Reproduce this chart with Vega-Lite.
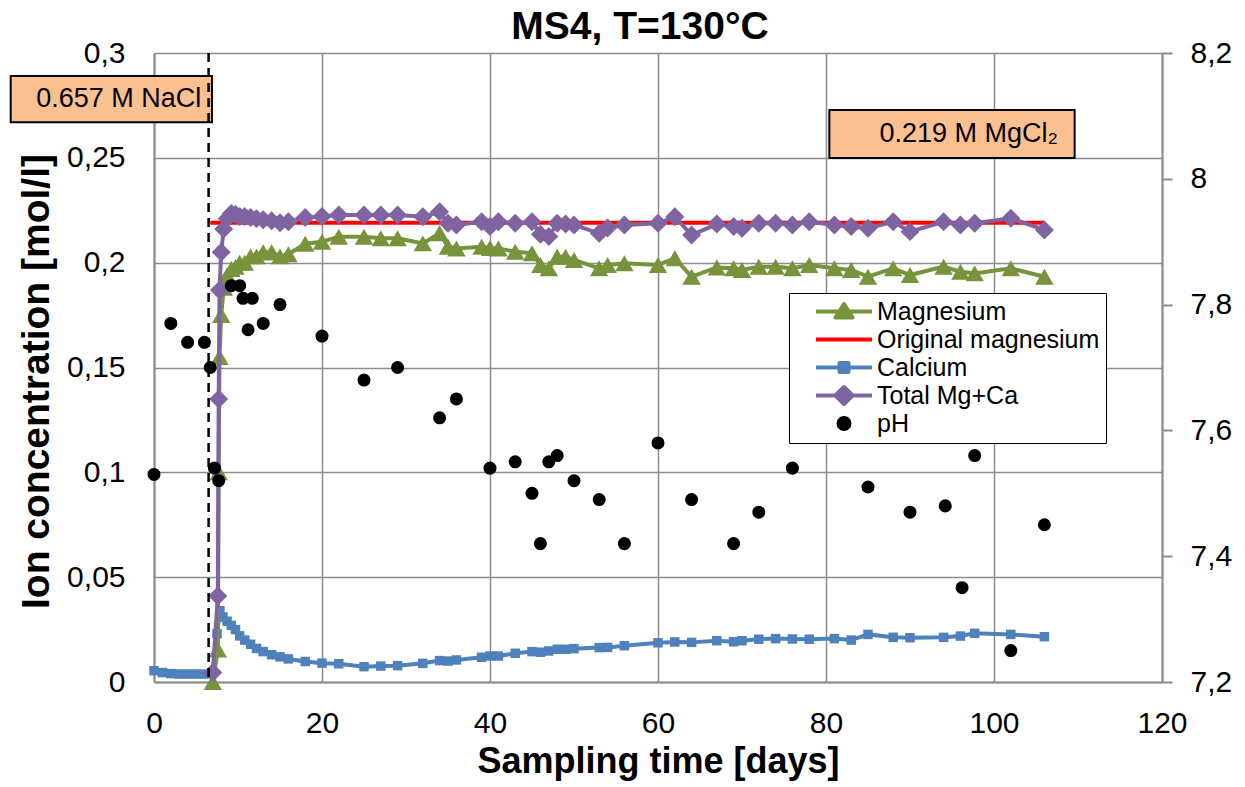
{
  "$schema": "https://vega.github.io/schema/vega-lite/v6.json",
  "width": 1008,
  "height": 629,
  "autosize": {"type": "none"},
  "padding": {"left": 154, "top": 53, "right": 83, "bottom": 105},
  "background": "white",
  "title": {"text": "MS4, T=130°C", "fontSize": 39, "fontWeight": "bold", "font": "Liberation Sans", "color": "black", "anchor": "middle", "baseline": "alphabetic", "offset": -39.5, "dx": -18},
  "config": {
    "view": {"stroke": null},
    "font": "Liberation Sans",
    "axis": {"labelFont": "Liberation Sans", "titleFont": "Liberation Sans", "labelColor": "black", "titleColor": "black", "gridColor": "#8c8c8c", "gridWidth": 1.5, "domainColor": "#8c8c8c", "domainWidth": 2, "tickColor": "#8c8c8c", "tickWidth": 2, "labelFlush": false}
  },
  "datasets": {
    "conc": [
      {"day": 6.7, "series": "Original magnesium", "value": 0.219},
      {"day": 106, "series": "Original magnesium", "value": 0.219},
      {"day": 0, "series": "Calcium", "value": 0.0054},
      {"day": 1, "series": "Calcium", "value": 0.0045},
      {"day": 2, "series": "Calcium", "value": 0.004},
      {"day": 3, "series": "Calcium", "value": 0.0038},
      {"day": 4, "series": "Calcium", "value": 0.0038},
      {"day": 5, "series": "Calcium", "value": 0.0038},
      {"day": 6, "series": "Calcium", "value": 0.0038},
      {"day": 7, "series": "Calcium", "value": 0.0045},
      {"day": 7.5, "series": "Calcium", "value": 0.023},
      {"day": 7.85, "series": "Calcium", "value": 0.034},
      {"day": 8.2, "series": "Calcium", "value": 0.031},
      {"day": 8.7, "series": "Calcium", "value": 0.029},
      {"day": 9.2, "series": "Calcium", "value": 0.027},
      {"day": 9.7, "series": "Calcium", "value": 0.025},
      {"day": 10.2, "series": "Calcium", "value": 0.022},
      {"day": 10.8, "series": "Calcium", "value": 0.02},
      {"day": 11.5, "series": "Calcium", "value": 0.018},
      {"day": 12.2, "series": "Calcium", "value": 0.016},
      {"day": 13, "series": "Calcium", "value": 0.0145},
      {"day": 14, "series": "Calcium", "value": 0.013},
      {"day": 15, "series": "Calcium", "value": 0.012},
      {"day": 16, "series": "Calcium", "value": 0.011},
      {"day": 18, "series": "Calcium", "value": 0.0098},
      {"day": 20, "series": "Calcium", "value": 0.009},
      {"day": 22, "series": "Calcium", "value": 0.0087},
      {"day": 25, "series": "Calcium", "value": 0.0073},
      {"day": 27, "series": "Calcium", "value": 0.0076},
      {"day": 29, "series": "Calcium", "value": 0.0078},
      {"day": 32, "series": "Calcium", "value": 0.0089},
      {"day": 34, "series": "Calcium", "value": 0.0102},
      {"day": 35, "series": "Calcium", "value": 0.01},
      {"day": 36, "series": "Calcium", "value": 0.0105},
      {"day": 39, "series": "Calcium", "value": 0.0118},
      {"day": 40, "series": "Calcium", "value": 0.0124},
      {"day": 41, "series": "Calcium", "value": 0.0124},
      {"day": 43, "series": "Calcium", "value": 0.0137},
      {"day": 45, "series": "Calcium", "value": 0.0145},
      {"day": 46, "series": "Calcium", "value": 0.0142},
      {"day": 47, "series": "Calcium", "value": 0.0148},
      {"day": 48, "series": "Calcium", "value": 0.0156},
      {"day": 49, "series": "Calcium", "value": 0.0156},
      {"day": 50, "series": "Calcium", "value": 0.0159},
      {"day": 53, "series": "Calcium", "value": 0.0164},
      {"day": 54, "series": "Calcium", "value": 0.0165},
      {"day": 56, "series": "Calcium", "value": 0.0173},
      {"day": 60, "series": "Calcium", "value": 0.0187},
      {"day": 62, "series": "Calcium", "value": 0.0191},
      {"day": 64, "series": "Calcium", "value": 0.0189},
      {"day": 67, "series": "Calcium", "value": 0.0197},
      {"day": 69, "series": "Calcium", "value": 0.0192},
      {"day": 70, "series": "Calcium", "value": 0.0197},
      {"day": 72, "series": "Calcium", "value": 0.0204},
      {"day": 74, "series": "Calcium", "value": 0.0207},
      {"day": 76, "series": "Calcium", "value": 0.0205},
      {"day": 78, "series": "Calcium", "value": 0.0204},
      {"day": 81, "series": "Calcium", "value": 0.0207},
      {"day": 83, "series": "Calcium", "value": 0.02},
      {"day": 85, "series": "Calcium", "value": 0.0227},
      {"day": 88, "series": "Calcium", "value": 0.0213},
      {"day": 90, "series": "Calcium", "value": 0.0211},
      {"day": 94, "series": "Calcium", "value": 0.0213},
      {"day": 96, "series": "Calcium", "value": 0.0219},
      {"day": 97.7, "series": "Calcium", "value": 0.0232},
      {"day": 102, "series": "Calcium", "value": 0.0227},
      {"day": 106, "series": "Calcium", "value": 0.0216},
      {"day": 7, "series": "Magnesium", "value": 0},
      {"day": 7.6, "series": "Magnesium", "value": 0.0155},
      {"day": 7.7, "series": "Magnesium", "value": 0.1},
      {"day": 7.8, "series": "Magnesium", "value": 0.155},
      {"day": 8.0, "series": "Magnesium", "value": 0.175},
      {"day": 8.3, "series": "Magnesium", "value": 0.188},
      {"day": 8.7, "series": "Magnesium", "value": 0.194},
      {"day": 9.2, "series": "Magnesium", "value": 0.197},
      {"day": 9.7, "series": "Magnesium", "value": 0.198},
      {"day": 10.2, "series": "Magnesium", "value": 0.2},
      {"day": 10.8, "series": "Magnesium", "value": 0.2},
      {"day": 11.5, "series": "Magnesium", "value": 0.203},
      {"day": 12.2, "series": "Magnesium", "value": 0.203},
      {"day": 13, "series": "Magnesium", "value": 0.205},
      {"day": 14, "series": "Magnesium", "value": 0.205},
      {"day": 15, "series": "Magnesium", "value": 0.203},
      {"day": 16, "series": "Magnesium", "value": 0.204},
      {"day": 18, "series": "Magnesium", "value": 0.209},
      {"day": 20, "series": "Magnesium", "value": 0.21},
      {"day": 22, "series": "Magnesium", "value": 0.2124},
      {"day": 25, "series": "Magnesium", "value": 0.2124},
      {"day": 27, "series": "Magnesium", "value": 0.2116},
      {"day": 29, "series": "Magnesium", "value": 0.2116},
      {"day": 32, "series": "Magnesium", "value": 0.2092},
      {"day": 34, "series": "Magnesium", "value": 0.214},
      {"day": 35, "series": "Magnesium", "value": 0.2076},
      {"day": 36, "series": "Magnesium", "value": 0.2068},
      {"day": 39, "series": "Magnesium", "value": 0.2076},
      {"day": 40, "series": "Magnesium", "value": 0.207},
      {"day": 41, "series": "Magnesium", "value": 0.2068},
      {"day": 43, "series": "Magnesium", "value": 0.2052},
      {"day": 45, "series": "Magnesium", "value": 0.2045},
      {"day": 46, "series": "Magnesium", "value": 0.1989},
      {"day": 47, "series": "Magnesium", "value": 0.1973},
      {"day": 48, "series": "Magnesium", "value": 0.2028},
      {"day": 49, "series": "Magnesium", "value": 0.2028},
      {"day": 50, "series": "Magnesium", "value": 0.2013},
      {"day": 53, "series": "Magnesium", "value": 0.1973},
      {"day": 54, "series": "Magnesium", "value": 0.1989},
      {"day": 56, "series": "Magnesium", "value": 0.1997},
      {"day": 60, "series": "Magnesium", "value": 0.1989},
      {"day": 62, "series": "Magnesium", "value": 0.2021},
      {"day": 64, "series": "Magnesium", "value": 0.1933},
      {"day": 67, "series": "Magnesium", "value": 0.1977},
      {"day": 69, "series": "Magnesium", "value": 0.1973},
      {"day": 70, "series": "Magnesium", "value": 0.1965},
      {"day": 72, "series": "Magnesium", "value": 0.1981},
      {"day": 74, "series": "Magnesium", "value": 0.1981},
      {"day": 76, "series": "Magnesium", "value": 0.1973},
      {"day": 78, "series": "Magnesium", "value": 0.1989},
      {"day": 81, "series": "Magnesium", "value": 0.1973},
      {"day": 83, "series": "Magnesium", "value": 0.1965},
      {"day": 85, "series": "Magnesium", "value": 0.1933},
      {"day": 88, "series": "Magnesium", "value": 0.1973},
      {"day": 90, "series": "Magnesium", "value": 0.1941},
      {"day": 94, "series": "Magnesium", "value": 0.1981},
      {"day": 96, "series": "Magnesium", "value": 0.1957},
      {"day": 97.7, "series": "Magnesium", "value": 0.1949},
      {"day": 102, "series": "Magnesium", "value": 0.1973},
      {"day": 106, "series": "Magnesium", "value": 0.1933},
      {"day": 7, "series": "Total Mg+Ca", "value": 0.0045},
      {"day": 7.6, "series": "Total Mg+Ca", "value": 0.041},
      {"day": 7.7, "series": "Total Mg+Ca", "value": 0.135},
      {"day": 7.8, "series": "Total Mg+Ca", "value": 0.187},
      {"day": 8.0, "series": "Total Mg+Ca", "value": 0.205},
      {"day": 8.3, "series": "Total Mg+Ca", "value": 0.216},
      {"day": 8.7, "series": "Total Mg+Ca", "value": 0.221},
      {"day": 9.2, "series": "Total Mg+Ca", "value": 0.2235},
      {"day": 9.7, "series": "Total Mg+Ca", "value": 0.223},
      {"day": 10.2, "series": "Total Mg+Ca", "value": 0.222},
      {"day": 10.8, "series": "Total Mg+Ca", "value": 0.222},
      {"day": 11.5, "series": "Total Mg+Ca", "value": 0.2215},
      {"day": 12.2, "series": "Total Mg+Ca", "value": 0.221},
      {"day": 13, "series": "Total Mg+Ca", "value": 0.2205},
      {"day": 14, "series": "Total Mg+Ca", "value": 0.22},
      {"day": 15, "series": "Total Mg+Ca", "value": 0.219},
      {"day": 16, "series": "Total Mg+Ca", "value": 0.2195},
      {"day": 18, "series": "Total Mg+Ca", "value": 0.2215},
      {"day": 20, "series": "Total Mg+Ca", "value": 0.222},
      {"day": 22, "series": "Total Mg+Ca", "value": 0.2227},
      {"day": 25, "series": "Total Mg+Ca", "value": 0.2227},
      {"day": 27, "series": "Total Mg+Ca", "value": 0.2227},
      {"day": 29, "series": "Total Mg+Ca", "value": 0.2227},
      {"day": 32, "series": "Total Mg+Ca", "value": 0.2219},
      {"day": 34, "series": "Total Mg+Ca", "value": 0.2243},
      {"day": 35, "series": "Total Mg+Ca", "value": 0.2188},
      {"day": 36, "series": "Total Mg+Ca", "value": 0.218},
      {"day": 39, "series": "Total Mg+Ca", "value": 0.2195},
      {"day": 40, "series": "Total Mg+Ca", "value": 0.2172},
      {"day": 41, "series": "Total Mg+Ca", "value": 0.2195},
      {"day": 43, "series": "Total Mg+Ca", "value": 0.2188},
      {"day": 45, "series": "Total Mg+Ca", "value": 0.2195},
      {"day": 46, "series": "Total Mg+Ca", "value": 0.2135},
      {"day": 47, "series": "Total Mg+Ca", "value": 0.2125},
      {"day": 48, "series": "Total Mg+Ca", "value": 0.2188},
      {"day": 49, "series": "Total Mg+Ca", "value": 0.2184},
      {"day": 50, "series": "Total Mg+Ca", "value": 0.218},
      {"day": 53, "series": "Total Mg+Ca", "value": 0.214},
      {"day": 54, "series": "Total Mg+Ca", "value": 0.2165},
      {"day": 56, "series": "Total Mg+Ca", "value": 0.218},
      {"day": 60, "series": "Total Mg+Ca", "value": 0.2188},
      {"day": 62, "series": "Total Mg+Ca", "value": 0.2219},
      {"day": 64, "series": "Total Mg+Ca", "value": 0.2132},
      {"day": 67, "series": "Total Mg+Ca", "value": 0.2184},
      {"day": 69, "series": "Total Mg+Ca", "value": 0.2172},
      {"day": 70, "series": "Total Mg+Ca", "value": 0.2164},
      {"day": 72, "series": "Total Mg+Ca", "value": 0.2188},
      {"day": 74, "series": "Total Mg+Ca", "value": 0.2188},
      {"day": 76, "series": "Total Mg+Ca", "value": 0.218},
      {"day": 78, "series": "Total Mg+Ca", "value": 0.2195},
      {"day": 81, "series": "Total Mg+Ca", "value": 0.218},
      {"day": 83, "series": "Total Mg+Ca", "value": 0.2172},
      {"day": 85, "series": "Total Mg+Ca", "value": 0.2164},
      {"day": 88, "series": "Total Mg+Ca", "value": 0.2195},
      {"day": 90, "series": "Total Mg+Ca", "value": 0.2148},
      {"day": 94, "series": "Total Mg+Ca", "value": 0.2195},
      {"day": 96, "series": "Total Mg+Ca", "value": 0.218},
      {"day": 97.7, "series": "Total Mg+Ca", "value": 0.2188},
      {"day": 102, "series": "Total Mg+Ca", "value": 0.2212},
      {"day": 106, "series": "Total Mg+Ca", "value": 0.2156}
    ],
    "ph": [
      {"day": 0, "series": "pH", "pH": 7.53},
      {"day": 2, "series": "pH", "pH": 7.77},
      {"day": 4, "series": "pH", "pH": 7.74},
      {"day": 6, "series": "pH", "pH": 7.74},
      {"day": 6.7, "series": "pH", "pH": 7.7},
      {"day": 7.2, "series": "pH", "pH": 7.54},
      {"day": 7.7, "series": "pH", "pH": 7.52},
      {"day": 9.2, "series": "pH", "pH": 7.83},
      {"day": 10.2, "series": "pH", "pH": 7.83},
      {"day": 10.6, "series": "pH", "pH": 7.81},
      {"day": 11.2, "series": "pH", "pH": 7.76},
      {"day": 11.7, "series": "pH", "pH": 7.81},
      {"day": 13, "series": "pH", "pH": 7.77},
      {"day": 15, "series": "pH", "pH": 7.8},
      {"day": 20, "series": "pH", "pH": 7.75},
      {"day": 25, "series": "pH", "pH": 7.68},
      {"day": 29, "series": "pH", "pH": 7.7},
      {"day": 34, "series": "pH", "pH": 7.62},
      {"day": 36, "series": "pH", "pH": 7.65},
      {"day": 40, "series": "pH", "pH": 7.54},
      {"day": 43, "series": "pH", "pH": 7.55},
      {"day": 45, "series": "pH", "pH": 7.5},
      {"day": 46, "series": "pH", "pH": 7.42},
      {"day": 47, "series": "pH", "pH": 7.55},
      {"day": 48, "series": "pH", "pH": 7.56},
      {"day": 50, "series": "pH", "pH": 7.52},
      {"day": 53, "series": "pH", "pH": 7.49},
      {"day": 56, "series": "pH", "pH": 7.42},
      {"day": 60, "series": "pH", "pH": 7.58},
      {"day": 64, "series": "pH", "pH": 7.49},
      {"day": 69, "series": "pH", "pH": 7.42},
      {"day": 72, "series": "pH", "pH": 7.47},
      {"day": 76, "series": "pH", "pH": 7.54},
      {"day": 85, "series": "pH", "pH": 7.51},
      {"day": 90, "series": "pH", "pH": 7.47},
      {"day": 94.2, "series": "pH", "pH": 7.48},
      {"day": 96.2, "series": "pH", "pH": 7.35},
      {"day": 97.7, "series": "pH", "pH": 7.56},
      {"day": 102, "series": "pH", "pH": 7.25},
      {"day": 106, "series": "pH", "pH": 7.45}
    ],
    "notes": [
      {"label": "0.657 M NaCl", "x0": -17.06, "x1": 6.9, "y0": 0.267, "y1": 0.289, "tx": -4.2, "ty": 0.278},
      {"label": "0.219 M MgCl₂", "x0": 80.4, "x1": 109.6, "y0": 0.2499, "y1": 0.2728, "tx": 97.0, "ty": 0.2614}
    ],
    "events": [
      {"event": "solution change", "day": 6.5}
    ]
  },
  "layer": [
    {
      "layer": [
        {
          "data": {"name": "conc"},
          "transform": [{"filter": "datum.series === 'Original magnesium'"}],
          "mark": {"type": "line", "strokeWidth": 4},
          "encoding": {
            "x": {"field": "day", "type": "quantitative", "scale": {"domain": [0, 120], "nice": false},
              "axis": {"values": [0, 20, 40, 60, 80, 100, 120], "grid": true, "tickSize": 0, "labelFontSize": 30, "labelPadding": 26, "labelFlush": false, "title": "Sampling time [days]", "titleFontSize": 36, "titleFontWeight": "bold", "titlePadding": 6}},
            "y": {"field": "value", "type": "quantitative", "scale": {"domain": [0, 0.3], "nice": false},
              "axis": {"values": [0, 0.05, 0.1, 0.15, 0.2, 0.25, 0.3], "grid": true, "tickSize": 0, "labelFontSize": 30, "labelPadding": 29, "labelFlush": false, "labelExpr": "replace(format(datum.value, '~g'), '.', ',')", "title": "Ion concentration [mol/l]", "titleFontSize": 39, "titleFontWeight": "bold", "titlePadding": 10, "titleY": 328}},
            "color": {"field": "series", "type": "nominal",
              "scale": {"domain": ["Magnesium", "Original magnesium", "Calcium", "Total Mg+Ca", "pH"], "range": ["#77933C", "#FF0000", "#4F81BD", "#8064A2", "#000000"]},
              "legend": {
                "title": null, "orient": "none", "legendX": 635, "legendY": 240,
                "padding": 6, "strokeColor": "black", "fillColor": "white",
                "labelFontSize": 25, "labelFont": "Liberation Sans", "labelColor": "black", "labelLimit": 400,
                "symbolSize": 400, "symbolOffset": 36.5, "labelOffset": 20.5, "rowPadding": 2,
                "encode": {"symbols": {"update": {
                  "shape": {"signal": "datum.value === 'Magnesium' ? 'M-2.8,0H2.8M0,-0.75L0.85,0.6L-0.85,0.6Z' : datum.value === 'Original magnesium' ? 'M-2.8,0H2.8' : datum.value === 'Calcium' ? 'M-2.8,0H2.8M-0.45,-0.45H0.45V0.45H-0.45Z' : datum.value === 'Total Mg+Ca' ? 'M-2.8,0H2.8M0,-0.85L0.85,0L0,0.85L-0.85,0Z' : 'M0.55,0L0.476,0.275L0.275,0.476L0,0.55L-0.275,0.476L-0.476,0.275L-0.55,0L-0.476,-0.275L-0.275,-0.476L0,-0.55L0.275,-0.476L0.476,-0.275Z'"},
                  "fill": {"scale": "color", "field": "value"},
                  "stroke": {"scale": "color", "field": "value"},
                  "strokeWidth": {"value": 4},
                  "strokeJoin": {"value": "round"},
                  "opacity": {"value": 1},
                  "fillOpacity": {"value": 1}
                }}}
              }}
          }
        },
        {
          "data": {"name": "conc"},
          "transform": [{"filter": "datum.series === 'Calcium'"}],
          "mark": {"type": "line", "strokeWidth": 4, "point": {"shape": "square", "size": 90, "filled": true, "opacity": 1}},
          "encoding": {
            "x": {"field": "day", "type": "quantitative"},
            "y": {"field": "value", "type": "quantitative"},
            "color": {"field": "series", "type": "nominal"}
          }
        },
        {
          "data": {"name": "conc"},
          "transform": [{"filter": "datum.series === 'Magnesium'"}],
          "mark": {"type": "line", "strokeWidth": 4, "point": {"shape": "triangle-up", "size": 340, "filled": true, "opacity": 1}},
          "encoding": {
            "x": {"field": "day", "type": "quantitative"},
            "y": {"field": "value", "type": "quantitative"},
            "color": {"field": "series", "type": "nominal"}
          }
        },
        {
          "data": {"name": "conc"},
          "transform": [{"filter": "datum.series === 'Total Mg+Ca'"}],
          "mark": {"type": "line", "strokeWidth": 4, "point": {"shape": "diamond", "size": 360, "filled": true, "opacity": 1}},
          "encoding": {
            "x": {"field": "day", "type": "quantitative"},
            "y": {"field": "value", "type": "quantitative"},
            "color": {"field": "series", "type": "nominal"}
          }
        },
        {
          "data": {"name": "notes"},
          "mark": {"type": "rect", "fill": "#FAC090", "stroke": "black", "strokeWidth": 2},
          "encoding": {
            "x": {"field": "x0", "type": "quantitative"},
            "x2": {"field": "x1"},
            "y": {"field": "y0", "type": "quantitative"},
            "y2": {"field": "y1"}
          }
        },
        {
          "data": {"name": "notes"},
          "mark": {"type": "text", "fontSize": 27, "font": "Liberation Sans", "color": "black", "align": "center", "baseline": "middle"},
          "encoding": {
            "x": {"field": "tx", "type": "quantitative"},
            "y": {"field": "ty", "type": "quantitative"},
            "text": {"field": "label"}
          }
        },
        {
          "data": {"name": "events"},
          "mark": {"type": "rule", "color": "black", "strokeWidth": 2.5, "strokeDash": [9, 6]},
          "encoding": {
            "x": {"field": "day", "type": "quantitative"}
          }
        }
      ]
    },
    {
      "data": {"name": "ph"},
      "mark": {"type": "point", "shape": "circle", "size": 170, "filled": true, "opacity": 1},
      "encoding": {
        "x": {"field": "day", "type": "quantitative"},
        "y": {"field": "pH", "type": "quantitative", "scale": {"domain": [7.2, 8.2], "nice": false, "zero": false},
          "axis": {"orient": "right", "values": [7.2, 7.4, 7.6, 7.8, 8.0, 8.2], "grid": false, "tickSize": 10, "labelFontSize": 30, "labelPadding": 18, "labelFlush": false, "labelExpr": "replace(format(datum.value, '~g'), '.', ',')", "title": null}},
        "color": {"field": "series", "type": "nominal"}
      }
    }
  ],
  "resolve": {"scale": {"y": "independent"}, "axis": {"y": "independent"}}
}
